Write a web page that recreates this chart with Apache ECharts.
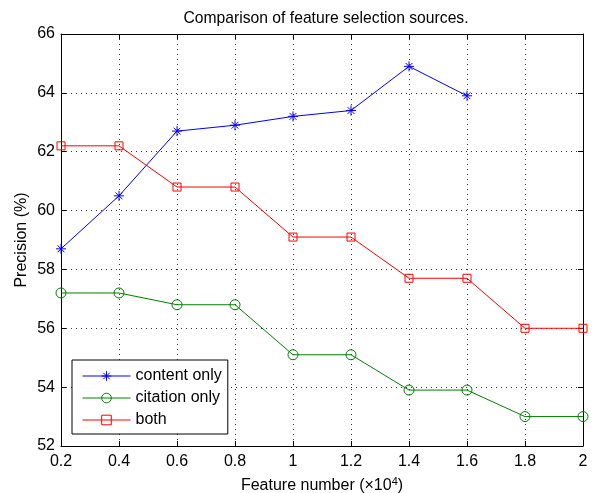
<!DOCTYPE html>
<html>
<head>
<meta charset="utf-8">
<script src="https://cdn.jsdelivr.net/npm/echarts@6/dist/echarts.min.js"></script>
<style>html,body{margin:0;padding:0;background:#fff}#c{width:595px;height:493px}</style>
</head>
<body>
<div id="c"></div>
<script>
var featureNumbers = [0.2, 0.4, 0.6, 0.8, 1.0, 1.2, 1.4, 1.6, 1.8, 2.0];
var contentOnly = [58.7, 60.5, 62.7, 62.9, 63.2, 63.4, 64.9, 63.9];
var citationOnly = [57.2, 57.2, 56.8, 56.8, 55.1, 55.1, 53.9, 53.9, 53.0, 53.0];
var both = [62.2, 62.2, 60.8, 60.8, 59.1, 59.1, 57.7, 57.7, 56.0, 56.0];
var seriesNames = ['content only', 'citation only', 'both'];

function pairs(vals) { return vals.map(function (v, i) { return [featureNumbers[i], v]; }); }

var FONT = 'Liberation Sans';
var FS = 16;
var chart = echarts.init(document.getElementById('c'), null, { renderer: 'canvas' });
var star = 'path://M5,0L5,10M0,5L10,5M1.6,1.6L8.4,8.4M1.6,8.4L8.4,1.6';

function axisCommon(extra) {
  return Object.assign({
    axisLine: { show: true, onZero: false, lineStyle: { color: '#000', width: 1 } },
    axisTick: { show: true, inside: true, length: 5, lineStyle: { color: '#000' } },
    axisLabel: { color: '#000', fontFamily: FONT, fontSize: FS },
    splitLine: { show: false }
  }, extra);
}

var option = {
  animation: false,
  backgroundColor: '#fff',
  title: {
    text: 'Comparison of feature selection sources.',
    left: 321, top: 6, textAlign: 'center',
    textStyle: { fontFamily: FONT, fontSize: 15.7, fontWeight: 'normal', color: '#000' }
  },
  grid: { left: 61, right: 12, top: 34, bottom: 47, containLabel: false, outerBoundsMode: 'none' },
  legend: {
    data: seriesNames,
    orient: 'vertical',
    left: 72, top: 360,
    backgroundColor: '#fff',
    borderColor: '#000', borderWidth: 1,
    padding: [8, 6, 6, 10],
    itemWidth: 48, itemHeight: 12, itemGap: 6,
    lineStyle: { width: 1 },
    itemStyle: { borderWidth: 1 },
    textStyle: { fontFamily: FONT, fontSize: FS, color: '#000' }
  },
  xAxis: [
    axisCommon({
      type: 'value', min: 0.2, max: 2, interval: 0.2, position: 'bottom',
      name: 'Feature number (×10{sup|4})', nameLocation: 'middle', nameGap: 30,
      nameMoveOverlap: false,
      nameTextStyle: { fontFamily: FONT, fontSize: FS, color: '#000',
        rich: { sup: { fontFamily: FONT, fontSize: 11, verticalAlign: 'top', padding: [0, 0, 9, 0] } } },
      axisLabel: { color: '#000', fontFamily: FONT, fontSize: FS, margin: 8 },
      splitLine: { show: true, lineStyle: { color: '#333', type: [1, 4], width: 1 } }
    }),
    axisCommon({
      type: 'value', min: 0.2, max: 2, interval: 0.2, position: 'top',
      axisLabel: { show: false }
    })
  ],
  yAxis: [
    axisCommon({
      type: 'value', min: 52, max: 66, interval: 2, position: 'left',
      name: 'Precision (%)', nameLocation: 'middle', nameGap: 31, nameRotate: 90,
      nameMoveOverlap: false,
      nameTextStyle: { fontFamily: FONT, fontSize: FS, color: '#000' },
      axisLabel: { color: '#000', fontFamily: FONT, fontSize: FS, margin: 6 },
      splitLine: { show: true, lineStyle: { color: '#333', type: [1, 4], width: 1 } }
    }),
    axisCommon({
      type: 'value', min: 52, max: 66, interval: 2, position: 'right',
      axisLabel: { show: false }
    })
  ],
  series: [
    {
      name: seriesNames[0], type: 'line', data: pairs(contentOnly),
      symbol: star, symbolSize: 10,
      lineStyle: { color: '#0000ff', width: 1 },
      itemStyle: { color: 'rgba(0,0,0,0)', borderColor: '#0000ff', borderWidth: 1 }
    },
    {
      name: seriesNames[1], type: 'line', data: pairs(citationOnly),
      symbol: 'circle', symbolSize: 10,
      lineStyle: { color: '#008000', width: 1 },
      itemStyle: { color: 'rgba(0,0,0,0)', borderColor: '#008000', borderWidth: 1 }
    },
    {
      name: seriesNames[2], type: 'line', data: pairs(both),
      symbol: 'rect', symbolSize: 8,
      lineStyle: { color: '#ff0000', width: 1 },
      itemStyle: { color: 'rgba(0,0,0,0)', borderColor: '#ff0000', borderWidth: 1 }
    }
  ]
};
chart.setOption(option);
</script>
</body>
</html>
